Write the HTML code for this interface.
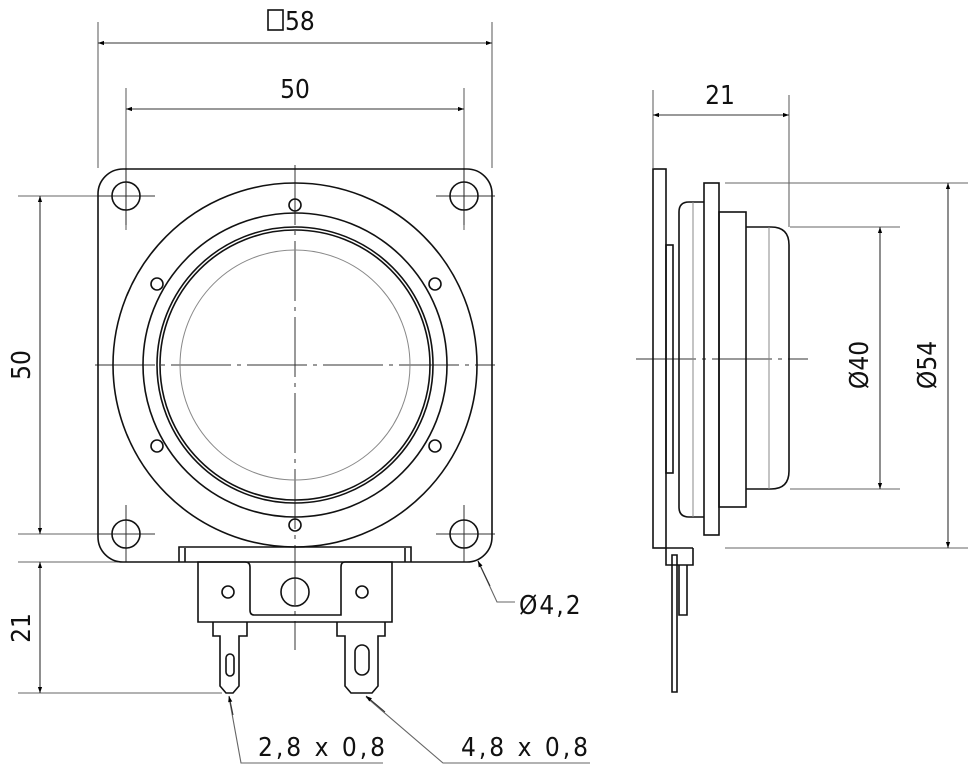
<!DOCTYPE html>
<html><head><meta charset="utf-8"><style>body{margin:0;background:#fff}svg{display:block}</style></head><body>
<svg width="976" height="772" viewBox="0 0 976 772" xmlns="http://www.w3.org/2000/svg" font-family="DejaVu Sans Condensed, Liberation Sans, sans-serif">
<defs>
<marker id="a" viewBox="0 0 10 10" refX="10" refY="5" markerWidth="16" markerHeight="6" markerUnits="userSpaceOnUse" orient="auto-start-reverse"><path d="M0,1.5L10,5L0,8.5z" fill="#000"/></marker>
</defs>
<g stroke="#666" stroke-width="1.1" fill="none">
<line x1="98" y1="22" x2="98" y2="168"/><line x1="492" y1="22" x2="492" y2="168"/>
<line x1="126" y1="88" x2="126" y2="230"/><line x1="464" y1="88" x2="464" y2="230"/>
<line x1="18" y1="196" x2="155" y2="196"/><line x1="18" y1="534" x2="155" y2="534"/>
<line x1="18" y1="562" x2="180" y2="562"/><line x1="18" y1="693" x2="222" y2="693"/>
<line x1="653" y1="90" x2="653" y2="168"/><line x1="789" y1="95" x2="789" y2="227"/>
<line x1="725" y1="183" x2="968" y2="183"/><line x1="725" y1="548" x2="968" y2="548"/>
<line x1="790" y1="227" x2="900" y2="227"/><line x1="790" y1="489" x2="900" y2="489"/>
<polyline points="478,561 497,602 515,602"/>
<polyline points="229,697 241,763 383,763"/>
<polyline points="366,697 443,763 590,763"/>
</g>
<g stroke="#333" stroke-width="1.1" fill="none">
<line x1="98" y1="43" x2="492" y2="43" marker-start="url(#a)" marker-end="url(#a)"/>
<line x1="126" y1="109" x2="464" y2="109" marker-start="url(#a)" marker-end="url(#a)"/>
<line x1="40" y1="196" x2="40" y2="534" marker-start="url(#a)" marker-end="url(#a)"/>
<line x1="40" y1="562" x2="40" y2="693" marker-start="url(#a)" marker-end="url(#a)"/>
<line x1="653" y1="115" x2="789" y2="115" marker-start="url(#a)" marker-end="url(#a)"/>
<line x1="880" y1="227" x2="880" y2="489" marker-start="url(#a)" marker-end="url(#a)"/>
<line x1="948" y1="183" x2="948" y2="548" marker-start="url(#a)" marker-end="url(#a)"/>
<line x1="490" y1="586" x2="478" y2="561" marker-end="url(#a)"/>
<line x1="233" y1="715" x2="229" y2="696" marker-end="url(#a)"/>
<line x1="385" y1="712" x2="366" y2="696" marker-end="url(#a)"/>
</g>
<g stroke="#333" stroke-width="1" fill="none">
<line x1="295" y1="165" x2="295" y2="650" stroke-dasharray="60,6,4,6"/>
<line x1="95" y1="365" x2="495" y2="365" stroke-dasharray="60,6,4,6"/>
<line x1="636" y1="359" x2="808" y2="359" stroke-dasharray="60,6,4,6"/>
<line x1="98" y1="196" x2="155" y2="196"/><line x1="126" y1="168" x2="126" y2="225"/>
<line x1="436" y1="196" x2="495" y2="196"/><line x1="464" y1="168" x2="464" y2="225"/>
<line x1="98" y1="534" x2="155" y2="534"/><line x1="126" y1="505" x2="126" y2="562"/>
<line x1="436" y1="534" x2="495" y2="534"/><line x1="464" y1="505" x2="464" y2="562"/>
</g>
<g stroke="#111" stroke-width="1.6" fill="none">
<rect x="98" y="169" width="394" height="393" rx="25"/>
<circle cx="126" cy="196" r="14"/><circle cx="464" cy="196" r="14"/>
<circle cx="126" cy="534" r="14"/><circle cx="464" cy="534" r="14"/>
<circle cx="295" cy="365" r="182"/>
<circle cx="295" cy="365" r="152"/>
<circle cx="295" cy="365" r="138"/>
<circle cx="295" cy="365" r="135"/>
<circle cx="295" cy="365" r="115" stroke="#888" stroke-width="1"/>
<circle cx="295" cy="205" r="6"/><circle cx="295" cy="525" r="6"/>
<circle cx="157" cy="284" r="6"/><circle cx="435" cy="284" r="6"/>
<circle cx="157" cy="446" r="6"/><circle cx="435" cy="446" r="6"/>
<path d="M179,562 V547 H411 V562"/>
<line x1="185" y1="548" x2="185" y2="562"/><line x1="405" y1="548" x2="405" y2="562"/>
<path d="M198,562 V622 H392 V562 H345 Q341,562 341,567 V615 H254 Q250,615 250,610 V567 Q250,562 245,562 Z"/>
<circle cx="228" cy="592" r="6"/><circle cx="362" cy="592" r="6"/><circle cx="295" cy="592" r="14"/>
<path d="M213,622 V636 H220 V686 L226,693 H233 L239,686 V636 H247 V622"/>
<rect x="226" y="654" width="8" height="22" rx="4"/>
<path d="M337,622 V636 H345 V686 L351,693 H372 L378,686 V636 H385 V622"/>
<rect x="355" y="645" width="14" height="30" rx="7"/>
</g>
<g stroke="#111" stroke-width="1.6" fill="none">
<rect x="653" y="169" width="13" height="379"/>
<rect x="666" y="245" width="7" height="228"/>
<path d="M704,202 H689 Q679,202 679,212 V507 Q679,517 689,517 H704"/>
<line x1="693" y1="202" x2="693" y2="517" stroke="#888" stroke-width="1"/>
<rect x="704" y="183" width="15" height="352"/>
<rect x="719" y="212" width="27" height="295"/>
<path d="M746,227 H771 Q789,227 789,245 V471 Q789,489 771,489 H746"/>
<line x1="769" y1="227" x2="769" y2="489" stroke="#888" stroke-width="1"/>
<path d="M666,548 V565 H693 V548 M666,548 H693"/>
<path d="M687,565 V615 H679 V565"/>
<path d="M672,555 V692 H677 V555 Z"/>
</g>
<g fill="#111" font-size="26">
<rect x="268" y="10" width="15" height="20" fill="none" stroke="#111" stroke-width="1.6"/>
<text x="285" y="30">58</text>
<text x="295" y="98" text-anchor="middle">50</text>
<text x="720" y="104" text-anchor="middle">21</text>
<text transform="translate(30,365) rotate(-90)" text-anchor="middle">50</text>
<text transform="translate(30,628) rotate(-90)" text-anchor="middle">21</text>
<text transform="translate(868,365) rotate(-90)" text-anchor="middle">Ø40</text>
<text transform="translate(936,365) rotate(-90)" text-anchor="middle">Ø54</text>
<text x="519" y="614" letter-spacing="2">Ø4,2</text>
<text x="258" y="756" letter-spacing="3">2,8 x 0,8</text>
<text x="461" y="756" letter-spacing="3">4,8 x 0,8</text>
</g>
</svg>
</body></html>
